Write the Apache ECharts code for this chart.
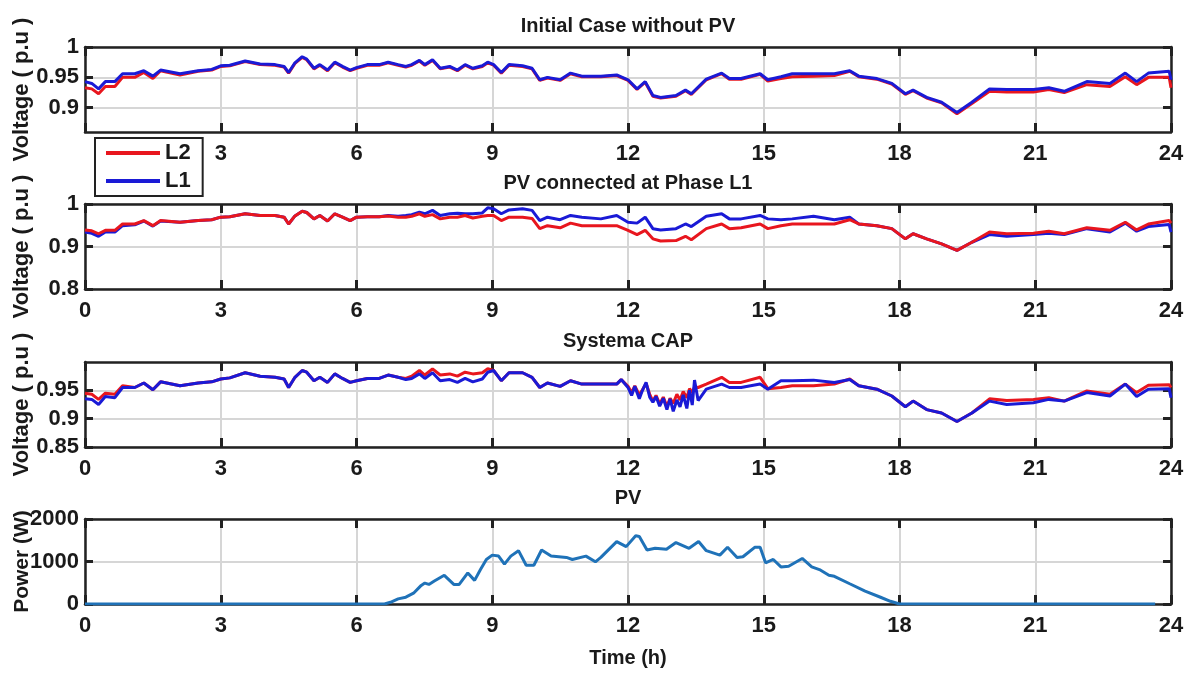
<!DOCTYPE html>
<html>
<head>
<meta charset="utf-8">
<script src="https://cdn.jsdelivr.net/npm/echarts@6/dist/echarts.min.js"></script>
<style>
html,body{margin:0;padding:0;background:#fff;}
#chart{width:1189px;height:673px;}
</style>
</head>
<body>
<div id="chart"></div>
<script>
// ---------------- DATA ----------------
const titles = ['Initial Case without PV', 'PV connected at Phase L1', 'Systema CAP', 'PV'];

// hours shared by panels 1 and 2
const hoursA = [0, 0.15, 0.3, 0.45, 0.66, 0.83, 1.1, 1.3, 1.5, 1.67, 2.1, 2.5, 2.8, 3.0, 3.2, 3.54, 3.87, 4.2, 4.4, 4.5, 4.64, 4.8, 4.9, 5.06, 5.19, 5.36, 5.52, 5.69, 5.86, 6.0, 6.24, 6.5, 6.7, 6.92, 7.09, 7.22, 7.39, 7.51, 7.68, 7.85, 8.06, 8.23, 8.4, 8.57, 8.78, 8.9, 9.03, 9.2, 9.37, 9.67, 9.88, 10.05, 10.22, 10.5, 10.73, 10.98, 11.4, 11.75, 12.0, 12.2, 12.38, 12.55, 12.72, 13.06, 13.27, 13.4, 13.73, 14.07, 14.24, 14.5, 14.92, 15.09, 15.38, 15.63, 16.1, 16.56, 16.9, 17.1, 17.5, 17.83, 18.13, 18.3, 18.6, 18.93, 19.27, 19.6, 19.99, 20.37, 20.96, 21.3, 21.64, 22.14, 22.65, 22.99, 23.24, 23.5, 23.96, 24.0];

// Panel 1: Initial case without PV
const p1L1 = [0.943, 0.940, 0.931, 0.943, 0.943, 0.956, 0.956, 0.961, 0.952, 0.962, 0.956, 0.961, 0.963, 0.969, 0.970, 0.977, 0.972, 0.971, 0.968, 0.958, 0.974, 0.984, 0.980, 0.965, 0.971, 0.962, 0.975, 0.968, 0.962, 0.966, 0.971, 0.971, 0.975, 0.971, 0.968, 0.971, 0.978, 0.971, 0.979, 0.965, 0.968, 0.962, 0.971, 0.965, 0.969, 0.975, 0.971, 0.958, 0.971, 0.969, 0.965, 0.946, 0.950, 0.946, 0.957, 0.952, 0.952, 0.954, 0.946, 0.931, 0.943, 0.920, 0.917, 0.920, 0.929, 0.923, 0.947, 0.957, 0.948, 0.948, 0.956, 0.946, 0.951, 0.956, 0.956, 0.956, 0.961, 0.952, 0.948, 0.940, 0.923, 0.929, 0.917, 0.909, 0.892, 0.909, 0.931, 0.930, 0.930, 0.933, 0.927, 0.943, 0.940, 0.957, 0.943, 0.957, 0.960, 0.946];
const p1L2 = [0.933, 0.931, 0.923, 0.935, 0.935, 0.950, 0.950, 0.958, 0.948, 0.961, 0.954, 0.960, 0.962, 0.968, 0.969, 0.976, 0.971, 0.970, 0.967, 0.957, 0.973, 0.983, 0.979, 0.964, 0.970, 0.961, 0.974, 0.967, 0.961, 0.965, 0.970, 0.970, 0.974, 0.970, 0.967, 0.970, 0.977, 0.970, 0.978, 0.964, 0.967, 0.961, 0.970, 0.964, 0.968, 0.974, 0.970, 0.957, 0.970, 0.968, 0.964, 0.945, 0.949, 0.945, 0.956, 0.951, 0.951, 0.953, 0.945, 0.930, 0.942, 0.919, 0.916, 0.919, 0.928, 0.922, 0.946, 0.956, 0.947, 0.947, 0.955, 0.944, 0.948, 0.951, 0.952, 0.953, 0.960, 0.951, 0.947, 0.939, 0.922, 0.928, 0.916, 0.908, 0.890, 0.907, 0.927, 0.926, 0.926, 0.930, 0.925, 0.938, 0.935, 0.951, 0.938, 0.950, 0.950, 0.933];

// Panel 2: PV connected at phase L1
const p2L1 = [0.934, 0.931, 0.924, 0.934, 0.934, 0.949, 0.951, 0.960, 0.948, 0.960, 0.957, 0.961, 0.963, 0.969, 0.970, 0.977, 0.973, 0.973, 0.969, 0.953, 0.972, 0.983, 0.980, 0.965, 0.973, 0.960, 0.977, 0.969, 0.961, 0.969, 0.970, 0.970, 0.973, 0.971, 0.973, 0.975, 0.981, 0.977, 0.985, 0.973, 0.977, 0.978, 0.977, 0.977, 0.979, 0.991, 0.989, 0.977, 0.986, 0.989, 0.985, 0.961, 0.969, 0.963, 0.973, 0.969, 0.965, 0.973, 0.957, 0.955, 0.969, 0.942, 0.939, 0.942, 0.953, 0.947, 0.971, 0.977, 0.965, 0.965, 0.973, 0.965, 0.963, 0.965, 0.971, 0.963, 0.969, 0.953, 0.949, 0.942, 0.918, 0.930, 0.918, 0.906, 0.891, 0.910, 0.928, 0.924, 0.928, 0.931, 0.928, 0.942, 0.934, 0.955, 0.936, 0.947, 0.952, 0.934];
const p2L2 = [0.939, 0.937, 0.930, 0.938, 0.938, 0.953, 0.953, 0.961, 0.949, 0.961, 0.957, 0.961, 0.963, 0.969, 0.970, 0.977, 0.973, 0.973, 0.969, 0.953, 0.972, 0.983, 0.980, 0.965, 0.973, 0.960, 0.977, 0.969, 0.961, 0.969, 0.970, 0.970, 0.972, 0.969, 0.969, 0.971, 0.977, 0.971, 0.975, 0.965, 0.969, 0.969, 0.973, 0.967, 0.971, 0.973, 0.973, 0.961, 0.969, 0.969, 0.966, 0.942, 0.949, 0.944, 0.955, 0.949, 0.949, 0.949, 0.938, 0.928, 0.938, 0.918, 0.913, 0.914, 0.924, 0.916, 0.942, 0.953, 0.942, 0.944, 0.953, 0.942, 0.949, 0.953, 0.953, 0.953, 0.963, 0.953, 0.949, 0.942, 0.918, 0.930, 0.918, 0.906, 0.891, 0.910, 0.934, 0.930, 0.931, 0.936, 0.930, 0.944, 0.938, 0.957, 0.939, 0.953, 0.961, 0.955];

// Panel 3: Systema CAP (finer sampling around the 12-13.5 h oscillation)
const hoursB = [0, 0.15, 0.3, 0.45, 0.66, 0.83, 1.1, 1.3, 1.5, 1.67, 2.1, 2.5, 2.8, 3.0, 3.2, 3.54, 3.87, 4.2, 4.4, 4.5, 4.64, 4.8, 4.9, 5.06, 5.19, 5.36, 5.52, 5.69, 5.86, 6.0, 6.24, 6.5, 6.7, 6.92, 7.09, 7.22, 7.39, 7.51, 7.68, 7.85, 8.06, 8.23, 8.4, 8.57, 8.78, 8.9, 9.03, 9.2, 9.37, 9.67, 9.88, 10.05, 10.22, 10.5, 10.73, 10.98, 11.4, 11.75, 11.85, 12.0, 12.08, 12.15, 12.25, 12.32, 12.4, 12.48, 12.55, 12.62, 12.7, 12.78, 12.86, 12.93, 13.0, 13.08, 13.15, 13.22, 13.3, 13.36, 13.42, 13.47, 13.55, 13.73, 14.07, 14.24, 14.5, 14.92, 15.09, 15.38, 15.63, 16.1, 16.56, 16.9, 17.1, 17.5, 17.83, 18.13, 18.3, 18.6, 18.93, 19.27, 19.6, 19.99, 20.37, 20.96, 21.3, 21.64, 22.14, 22.65, 22.99, 23.24, 23.5, 23.96, 24.0];
const p3L1 = [0.935, 0.934, 0.925, 0.939, 0.937, 0.955, 0.955, 0.963, 0.951, 0.965, 0.958, 0.963, 0.965, 0.970, 0.972, 0.981, 0.975, 0.973, 0.970, 0.955, 0.973, 0.985, 0.982, 0.967, 0.973, 0.964, 0.979, 0.971, 0.964, 0.967, 0.971, 0.971, 0.977, 0.973, 0.969, 0.971, 0.979, 0.971, 0.981, 0.967, 0.969, 0.964, 0.971, 0.965, 0.970, 0.982, 0.985, 0.967, 0.981, 0.981, 0.973, 0.955, 0.963, 0.957, 0.967, 0.961, 0.961, 0.961, 0.969, 0.955, 0.941, 0.957, 0.935, 0.950, 0.964, 0.938, 0.929, 0.939, 0.922, 0.936, 0.916, 0.935, 0.913, 0.933, 0.921, 0.942, 0.918, 0.950, 0.924, 0.968, 0.932, 0.952, 0.961, 0.955, 0.955, 0.961, 0.952, 0.967, 0.967, 0.968, 0.964, 0.969, 0.958, 0.952, 0.940, 0.921, 0.931, 0.916, 0.910, 0.895, 0.910, 0.931, 0.925, 0.928, 0.934, 0.931, 0.946, 0.940, 0.961, 0.939, 0.952, 0.953, 0.937];
const p3L2 = [0.945, 0.943, 0.934, 0.945, 0.943, 0.958, 0.955, 0.963, 0.951, 0.965, 0.958, 0.963, 0.965, 0.970, 0.972, 0.981, 0.975, 0.973, 0.970, 0.955, 0.973, 0.985, 0.982, 0.967, 0.973, 0.964, 0.979, 0.971, 0.964, 0.967, 0.971, 0.971, 0.977, 0.973, 0.971, 0.975, 0.985, 0.977, 0.988, 0.977, 0.979, 0.975, 0.982, 0.979, 0.981, 0.988, 0.985, 0.967, 0.981, 0.981, 0.973, 0.955, 0.963, 0.957, 0.967, 0.961, 0.961, 0.961, 0.969, 0.957, 0.946, 0.958, 0.942, 0.951, 0.962, 0.943, 0.931, 0.941, 0.926, 0.938, 0.922, 0.936, 0.927, 0.943, 0.933, 0.948, 0.937, 0.953, 0.946, 0.956, 0.955, 0.961, 0.973, 0.964, 0.964, 0.973, 0.953, 0.955, 0.958, 0.958, 0.961, 0.970, 0.958, 0.952, 0.940, 0.921, 0.931, 0.916, 0.910, 0.895, 0.910, 0.935, 0.932, 0.934, 0.937, 0.931, 0.949, 0.943, 0.961, 0.946, 0.959, 0.960, 0.955];

// Panel 4: PV power (W)
const pvHours = [0, 6.62, 6.75, 6.92, 7.09, 7.26, 7.43, 7.51, 7.6, 7.72, 7.94, 7.98, 8.15, 8.27, 8.46, 8.61, 8.74, 8.87, 9.0, 9.14, 9.27, 9.41, 9.58, 9.75, 9.92, 10.09, 10.3, 10.64, 10.77, 11.07, 11.28, 11.4, 11.75, 11.96, 12.17, 12.25, 12.42, 12.6, 12.85, 13.06, 13.35, 13.56, 13.73, 14.03, 14.2, 14.41, 14.54, 14.8, 14.92, 15.04, 15.21, 15.38, 15.55, 15.85, 16.06, 16.23, 16.44, 16.56, 16.9, 17.24, 17.58, 17.8, 18.0, 23.65];
const pvPower = [0, 0, 40, 120, 160, 254, 437, 492, 460, 540, 675, 715, 460, 460, 730, 556, 810, 1048, 1150, 1127, 937, 1127, 1255, 913, 913, 1270, 1127, 1096, 1048, 1127, 992, 1096, 1469, 1350, 1604, 1588, 1270, 1310, 1286, 1445, 1310, 1469, 1255, 1150, 1334, 1096, 1111, 1334, 1334, 968, 1048, 873, 889, 1072, 873, 810, 675, 651, 476, 302, 159, 64, 0, 0];

// axis values
const xTickLabels = [[3, 6, 9, 12, 15, 18, 21, 24], [0, 3, 6, 9, 12, 15, 18, 21, 24], [0, 3, 6, 9, 12, 15, 18, 21, 24], [0, 3, 6, 9, 12, 15, 18, 21, 24]];
const xTickMarks = [0, 3, 6, 9, 12, 15, 18, 21, 24];
const yMin = [0.86, 0.8, 0.85, 0];
const yMax = [1.0, 1.0, 1.0, 2000];
const yTicks = [[0.9, 0.95, 1], [0.8, 0.9, 1], [0.85, 0.9, 0.95], [0, 1000, 2000]];
const yNames = ['Voltage ( p.u )', 'Voltage ( p.u )', 'Voltage ( p.u )', 'Power (W)'];

// ---------------- STYLE / LAYOUT ----------------
const FONT = "'Liberation Sans',Arial,Helvetica,sans-serif";
const FS_TICK = 22, FS_TITLE = 20, FS_NAME = 22;
const RED = '#e8161e';
const BLUE = '#1a1ad6';
const PVC = '#1f72b8';
const AX = '#222222';
const GRIDC = '#d6d6d6';
const tops = [47, 204, 362, 519];
const plotLeft = 85, plotWidth = 1086, plotH = 85;

function pairs(xs, ys) { return xs.map((x, i) => [x, ys[i]]); }
const txt = (fs) => ({ color: '#1a1a1a', fontFamily: FONT, fontSize: fs, fontWeight: 'bold' });

const grids = [], xAxes = [], yAxes = [], titleArr = [];
for (let i = 0; i < 4; i++) {
  grids.push({ left: plotLeft, top: tops[i], width: plotWidth, height: plotH, containLabel: false, outerBoundsMode: 'none' });
  xAxes.push({
    type: 'value', gridIndex: i, min: 0, max: 24, interval: 3, position: 'bottom',
    axisLine: { show: true, onZero: false, lineStyle: { color: AX, width: 2.5 } },
    axisTick: { show: true, inside: true, length: 9, lineStyle: { color: AX, width: 3 }, customValues: xTickMarks },
    axisLabel: Object.assign({ show: true, margin: 11, customValues: xTickLabels[i], formatter: v => String(v) }, txt(FS_TICK)),
    splitLine: { show: true, lineStyle: { color: GRIDC, width: 2 } },
    name: i === 3 ? 'Time (h)' : '', nameLocation: 'middle', nameGap: 44, nameMoveOverlap: false,
    nameTextStyle: txt(FS_NAME - 2)
  });
  xAxes.push({
    type: 'value', gridIndex: i, min: 0, max: 24, interval: 3, position: 'top',
    axisLine: { show: true, onZero: false, lineStyle: { color: AX, width: 2.5 } },
    axisTick: { show: true, inside: true, length: 9, lineStyle: { color: AX, width: 3 } },
    axisLabel: { show: false }, splitLine: { show: false }
  });
  yAxes.push({
    type: 'value', gridIndex: i, min: yMin[i], max: yMax[i], position: 'left',
    axisLine: { show: true, onZero: false, lineStyle: { color: AX, width: 2.5 } },
    axisTick: { show: true, inside: true, length: 8, lineStyle: { color: AX, width: 3 }, customValues: yTicks[i] },
    axisLabel: Object.assign({ show: true, margin: 6, customValues: yTicks[i], formatter: v => String(v) }, txt(FS_TICK)),
    splitLine: { show: true, lineStyle: { color: GRIDC, width: 2 } },
    name: yNames[i], nameLocation: 'middle', nameRotate: 90, nameGap: 52, nameMoveOverlap: false,
    nameTextStyle: txt(i === 3 ? FS_NAME - 1 : FS_NAME)
  });
  yAxes.push({
    type: 'value', gridIndex: i, min: yMin[i], max: yMax[i], position: 'right',
    axisLine: { show: true, onZero: false, lineStyle: { color: AX, width: 2.5 } },
    axisTick: { show: true, inside: true, length: 8, lineStyle: { color: AX, width: 3 }, customValues: yTicks[i] },
    axisLabel: { show: false }, splitLine: { show: false }
  });
  titleArr.push({
    text: titles[i], left: plotLeft + plotWidth / 2, textAlign: 'center', top: tops[i] - 31, padding: 0,
    textStyle: txt(FS_TITLE)
  });
}

function lineSeries(name, color, gi, data, z) {
  return {
    type: 'line', name: name, xAxisIndex: gi * 2, yAxisIndex: gi * 2, data: data,
    symbol: 'none', showSymbol: false, animation: false, z: z,
    lineStyle: { color: color, width: 3 }, itemStyle: { color: color }
  };
}

const series = [
  lineSeries('L2', RED, 0, pairs(hoursA, p1L2), 2),
  lineSeries('L1', BLUE, 0, pairs(hoursA, p1L1), 3),
  lineSeries('L1', BLUE, 1, pairs(hoursA, p2L1), 2),
  lineSeries('L2', RED, 1, pairs(hoursA, p2L2), 3),
  lineSeries('L2', RED, 2, pairs(hoursB, p3L2), 2),
  lineSeries('L1', BLUE, 2, pairs(hoursB, p3L1), 3),
  lineSeries('PV', PVC, 3, pairs(pvHours, pvPower), 2)
];

const chart = echarts.init(document.getElementById('chart'), null, { renderer: 'canvas' });
chart.setOption({
  backgroundColor: '#ffffff',
  animation: false,
  title: titleArr,
  grid: grids,
  xAxis: xAxes,
  yAxis: yAxes,
  legend: {
    data: ['L2', 'L1'], orient: 'vertical', left: 95, top: 138,
    padding: [4, 12, 4, 11], itemGap: 6, itemWidth: 54, itemHeight: 4, icon: 'rect',
    backgroundColor: '#ffffff', borderColor: AX, borderWidth: 2, borderRadius: 0,
    selectedMode: false, z: 10,
    textStyle: Object.assign({ lineHeight: 22, padding: [0, 0, 0, 0] }, txt(FS_TICK))
  },
  series: series
});
</script>
</body>
</html>
